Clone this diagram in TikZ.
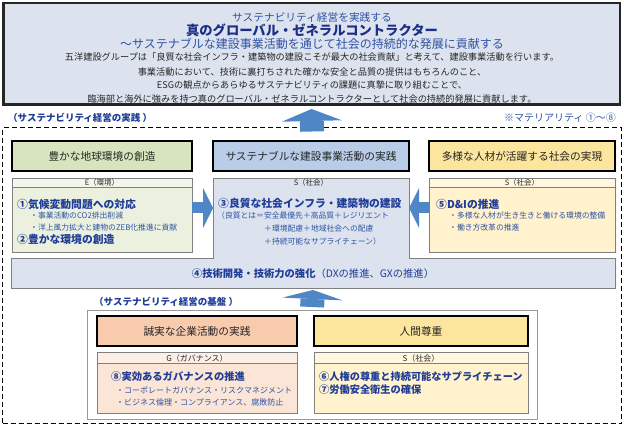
\documentclass[tikz,border=0pt]{standalone}
\usepackage{fontspec}
\setmainfont{Noto Sans CJK JP}
\usepackage{xcolor}
\usetikzlibrary{arrows.meta,positioning}

\definecolor{navy}{HTML}{1B2F86}
\definecolor{itemblue}{HTML}{1F3C96}
\definecolor{subblue}{HTML}{2F52A3}
\definecolor{arrowblue}{HTML}{4F87C6}
\definecolor{linegray}{HTML}{808080}
\definecolor{topfill}{HTML}{DCE3EF}
\definecolor{envdark}{HTML}{D7E4BD}
\definecolor{envlite}{HTML}{EBF1DE}
\definecolor{bizdark}{HTML}{B9CDE8}
\definecolor{bizlite}{HTML}{DCE3EF}
\definecolor{hrdark}{HTML}{FCE59C}
\definecolor{hrlite}{HTML}{FFF2CC}
\definecolor{govdark}{HTML}{F8CBAD}
\definecolor{govlite}{HTML}{FBE5D6}

\begin{document}
\begin{tikzpicture}[x=1pt, y=1pt,
    hbox/.style={draw=black, line width=2pt, minimum height=30pt, inner sep=0pt, text=black!85, font=\fontsize{10.7pt}{12pt}\selectfont},
    strip/.style={draw=linegray, line width=0.7pt, inner sep=0pt, outer sep=0pt, text=black!85, font=\fontsize{7.5pt}{8pt}\selectfont},
    body/.style={draw=linegray, line width=0.7pt, inner sep=0pt, outer sep=0pt},
    item/.style={anchor=west, inner sep=0pt, text=itemblue, font=\bfseries\fontsize{10.8pt}{12pt}\selectfont},
    sub/.style={anchor=west, inner sep=0pt, text=subblue, font=\fontsize{7.8pt}{9pt}\selectfont},
    sect/.style={anchor=west, inner sep=0pt, text=itemblue, font=\bfseries\fontsize{9.5pt}{11pt}\selectfont},
    txtline/.style={inner sep=0pt, text=black!85, font=\fontsize{9.2pt}{10pt}\selectfont},
    fatarrow/.style n args={3}{draw=arrowblue, line width=#1, -{Triangle[width=#2, length=#3, line width=0pt]}}]
  \useasboundingbox (0,0) rectangle (624,-427);

  % vision
  \node[draw=black!85, line width=2.5pt, fill=topfill, minimum width=616.5pt, minimum height=101.5pt] (vision) at (311.5,-54) {};
  \node[inner sep=0pt, text=subblue, font=\fontsize{10.7pt}{12pt}\selectfont] (v1) at (312,-17) {サステナビリティ経営を実践する};
  \node[inner sep=0pt, text=navy, font=\bfseries\fontsize{13.3pt}{15pt}\selectfont] (v2) at (312,-30) {真のグローバル・ゼネラルコントラクター};
  \node[inner sep=0pt, text=subblue, font=\fontsize{12pt}{14pt}\selectfont] (v3) at (312,-43.5) {～サステナブルな建設事業活動を通じて社会の持続的な発展に貢献する};
  \node[txtline] (v4) at (312,-57.5) {五洋建設グループは「良質な社会インフラ・建築物の建設こそが最大の社会貢献」と考えて、建設事業活動を行います。};
  \node[txtline] (v5) at (312,-72) {事業活動において、技術に裏打ちされた確かな安全と品質の提供はもちろんのこと、};
  \node[txtline] (v6) at (312,-85.5) {ESGの観点からあらゆるサステナビリティの課題に真摯に取り組むことで、};
  \node[txtline] (v7) at (312,-99) {臨海部と海外に強みを持つ真のグローバル・ゼネラルコントラクターとして社会の持続的発展に貢献します。};

  \node[sect] (practice) at (8,-118) {（サステナビリティ経営の実践 ）};
  \node[anchor=east, inner sep=0pt, text=subblue, font=\fontsize{10pt}{11pt}\selectfont] (mat) at (616,-118) {※マテリアリティ ①～⑧};
  \node[draw, dash pattern=on 5pt off 3pt, line width=1pt, minimum width=619pt, minimum height=296pt] (frame) at (312,-276) {};

  % practice row
  \node[hbox, fill=envdark, minimum width=180pt] (envH) at (102,-156.5) {豊かな地球環境の創造};
  \node[hbox, fill=bizdark, minimum width=196pt, right=19pt of envH] (bizH) {サステナブルな建設事業活動の実践};
  \node[hbox, fill=hrdark, minimum width=186pt, right=18pt of bizH] (hrH) {多様な人材が活躍する社会の実現};

  \node[strip, fill=envlite!60!white, minimum width=180pt, minimum height=9pt, below=6pt of envH] (envS) {E（環境）};
  \node[body, fill=envlite, minimum width=180pt, minimum height=65pt, below=0pt of envS] (envB) {};
  \node[strip, fill=bizlite, minimum width=196pt, minimum height=9pt, below=6pt of bizH] (bizS) {S（社会）};
  \node[body, draw=none, fill=bizlite, minimum width=196pt, minimum height=71pt, below=0pt of bizS] (bizB) {};
  \node[body, draw=none, fill=bizlite, minimum width=604pt, minimum height=30pt, anchor=north] (tech) at (313,-258.5) {};
  \draw[linegray, line width=0.7pt] (bizS.south west) -- (bizB.south west) -- (tech.north west) -- (tech.south west)
    -- (tech.south east) -- (tech.north east) -- (bizB.south east) -- (bizS.south east);
  \node[strip, fill=hrlite!60!white, minimum width=186pt, minimum height=9pt, below=6pt of hrH] (hrS) {S（社会）};
  \node[body, fill=hrlite, minimum width=186pt, minimum height=65pt, below=0pt of hrS] (hrB) {};

  \node[item] (m1) at (17,-204) {①気候変動問題への対応};
  \node[sub] (m1a) at (30,-215.5) {・事業活動のCO2排出削減};
  \node[sub] (m1b) at (30,-228) {・洋上風力拡大と建物のZEB化推進に貢献};
  \node[item] (m2) at (17,-239.5) {②豊かな環境の創造};
  \node[item] (m3) at (218,-203) {③良質な社会インフラ・建築物の建設};
  \node[sub] (m3a) at (217,-216) {（良質とは＝安全最優先＋高品質＋レジリエント};
  \node[sub] (m3b) at (264,-228.5) {＋環境配慮＋地域社会への配慮};
  \node[sub] (m3c) at (264,-241.5) {＋持続可能なサプライチェーン）};
  \node[item] (m5) at (436,-204) {⑤D\&Iの推進};
  \node[sub] (m5a) at (449,-215.5) {・多様な人材が生き生きと働ける環境の整備};
  \node[sub] (m5b) at (449,-228) {・働き方改革の推進};
  \node[inner sep=0pt, text=itemblue, font=\fontsize{10.3pt}{12pt}\selectfont] (m4) at (tech.center) {\textbf{④技術開発・技術力の強化}（DXの推進、GXの推進）};

  % foundation
  \node[body, draw=linegray!80, fill=white, minimum width=450pt, minimum height=109pt] (base) at (312,-364.5) {};
  \node[sect] (found) at (94,-302) {（サステナビリティ経営の基盤 ）};
  \node[hbox, fill=govdark, minimum width=200pt] (govH) at (197,-331.5) {誠実な企業活動の実践};
  \node[hbox, fill=hrdark, minimum width=214pt, right=15pt of govH] (humH) {人間尊重};
  \node[strip, fill=govlite!60!white, minimum width=200pt, minimum height=11pt, below=5pt of govH, font=\fontsize{8pt}{9pt}\selectfont] (govS) {G（ガバナンス）};
  \node[body, fill=govlite, minimum width=200pt, minimum height=50pt, below=0pt of govS] (govB) {};
  \node[strip, fill=hrlite!60!white, minimum width=214pt, minimum height=11pt, below=5pt of humH, font=\fontsize{8pt}{9pt}\selectfont] (humS) {S（社会）};
  \node[body, fill=hrlite, minimum width=214pt, minimum height=50pt, below=0pt of humS] (humB) {};

  \node[item, font=\bfseries\fontsize{10.3pt}{12pt}\selectfont] (m8) at (111,-377) {⑧実効あるガバナンスの推進};
  \node[sub, font=\fontsize{8pt}{9pt}\selectfont] (m8a) at (116,-390.5) {・コーポレートガバナンス・リスクマネジメント};
  \node[sub, font=\fontsize{8pt}{9pt}\selectfont] (m8b) at (116,-402) {・ビジネス倫理・コンプライアンス、腐敗防止};
  \node[item, font=\bfseries\fontsize{10.2pt}{12pt}\selectfont] (m6) at (319,-377) {⑥人権の尊重と持続可能なサプライチェーン};
  \node[item, font=\bfseries\fontsize{10.2pt}{12pt}\selectfont] (m7) at (319,-390) {⑦労働安全衛生の確保};

  % arrows
  \draw[fatarrow={11pt}{40pt}{10pt}] ([yshift=12pt]envB.east) -- ([yshift=12pt]envB.east -| bizB.west);
  \draw[fatarrow={11pt}{40pt}{10pt}] ([yshift=12pt]hrB.west) -- ([yshift=12pt]hrB.west -| bizB.east);
  \draw[fatarrow={24pt}{60pt}{12pt}, shorten <=-4pt, shorten >=3pt] (frame.north) -- (vision.south);
  \draw[fatarrow={24pt}{60pt}{9pt}, shorten <=3pt, shorten >=1.5pt] (base.north) -- (tech.south);
\end{tikzpicture}
\end{document}
